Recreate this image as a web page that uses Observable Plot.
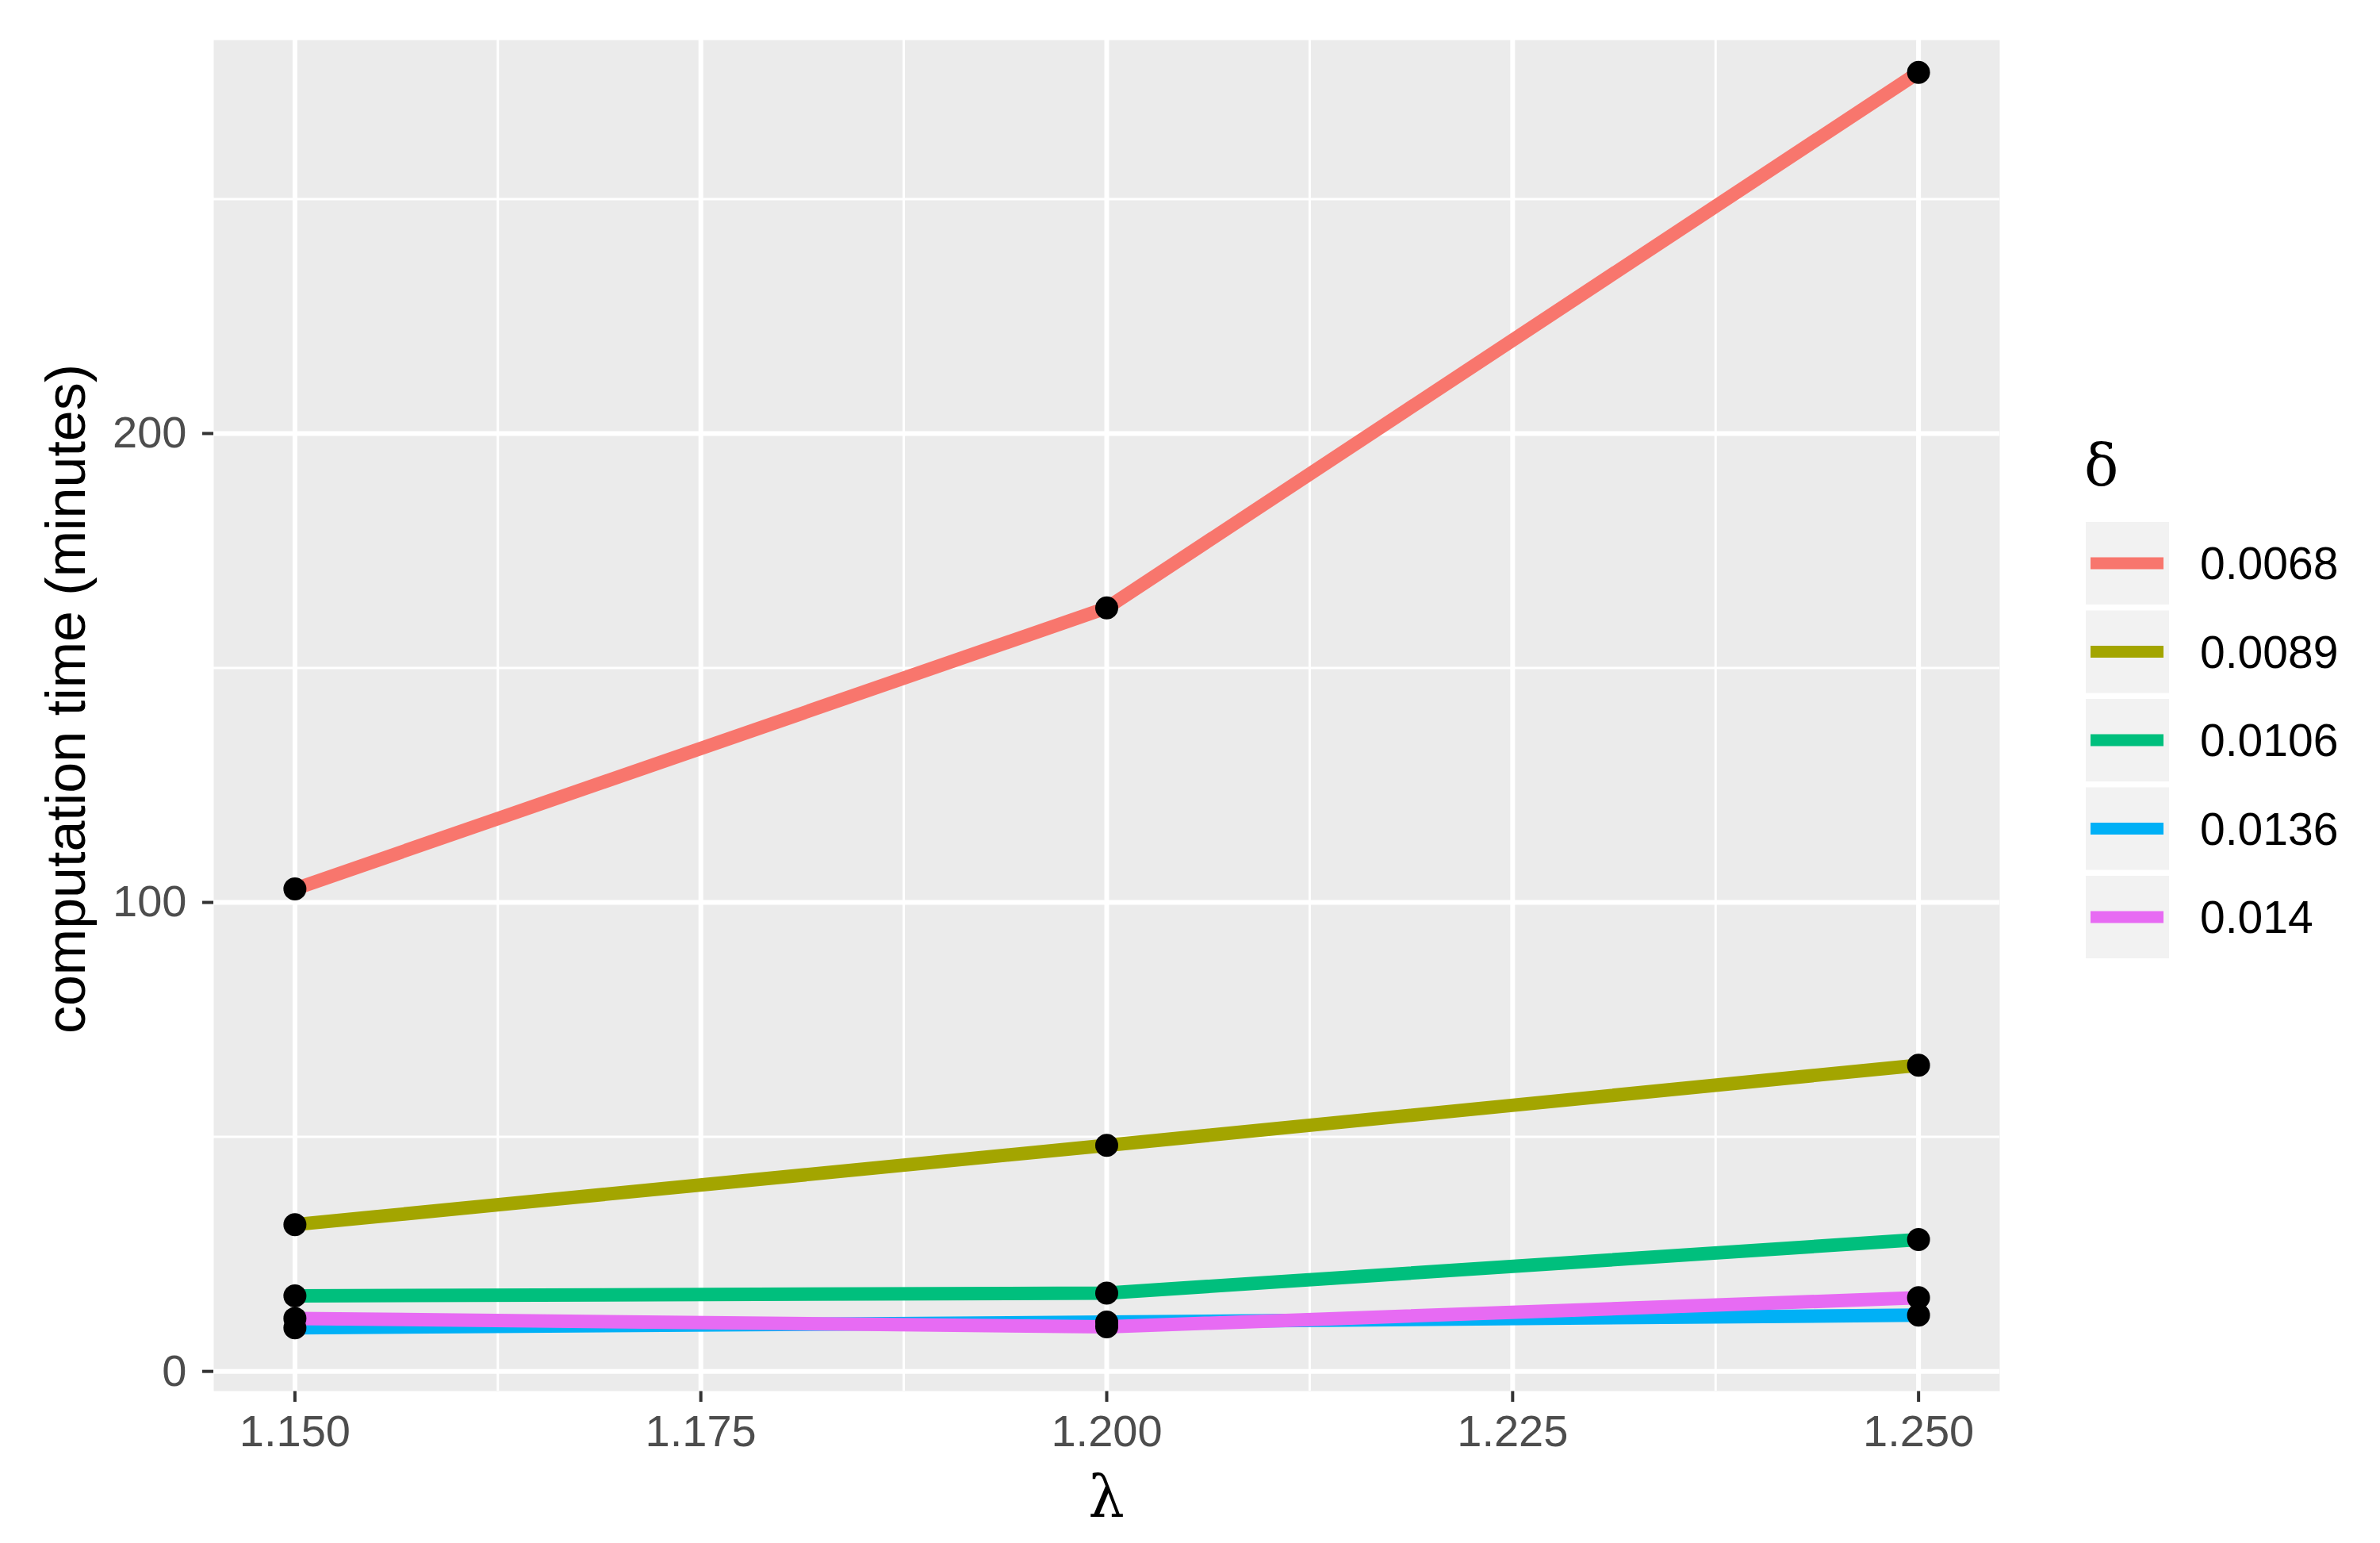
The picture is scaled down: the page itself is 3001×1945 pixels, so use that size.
<!DOCTYPE html>
<html>
<head>
<meta charset="utf-8">
<script src="https://cdn.jsdelivr.net/npm/d3@7"></script>
<script src="https://cdn.jsdelivr.net/npm/@observablehq/plot@0.6"></script>
<style>
  body { margin: 0; background: #fff; }
  #chart { position: relative; width: 3001px; height: 1945px; }
  g[aria-label="x-axis tick"], g[aria-label="y-axis tick"] { stroke-width: 4px; stroke: #333333; }
  g[aria-label="x-axis tick label"], g[aria-label="y-axis tick label"] { fill: #4d4d4d; }
  [aria-label="x-axis"] .tick line, [aria-label="y-axis"] .tick line { stroke-width: 4px; stroke: #333333; }
  [aria-label="x-axis"] .tick text, [aria-label="y-axis"] .tick text { fill: #4d4d4d; }
</style>
</head>
<body>
<div id="chart"></div>
<script>
// ---- data ----
const lambda = [1.15, 1.2, 1.25];
const deltas = ["0.0068", "0.0089", "0.0106", "0.0136", "0.014"];
const time0068 = [102.9, 162.8, 277.0];
const time0089 = [31.3, 48.2, 65.3];
const time0106 = [16.1, 16.7, 28.1];
const time0136 = [9.3, 10.5, 12.0];
const time014  = [11.3, 9.5, 15.7];
const colors = ["#F8766D", "#A3A500", "#00BF7D", "#00B0F6", "#E76BF3"];
const xTicks = [1.15, 1.175, 1.2, 1.225, 1.25];
const xMinor = [1.1625, 1.1875, 1.2125, 1.2375];
const yTicks = [0, 100, 200];
const yMinor = [50, 150, 250];

const series = [time0068, time0089, time0106, time0136, time014];
const data = [];
deltas.forEach((d, i) => lambda.forEach((l, j) => data.push({delta: d, lambda: l, time: series[i][j]})));

const W = 3001, H = 1945;
const mL = 269, mR = 480, mT = 50, mB = 192;

const svg = Plot.plot({
  width: W,
  height: H,
  marginLeft: mL,
  marginRight: mR,
  marginTop: mT,
  marginBottom: mB,
  style: {fontFamily: "'Liberation Sans', Arial, sans-serif", fontSize: "56px", color: "#333333", background: "#ffffff", overflow: "visible"},
  x: {domain: [1.145, 1.255], ticks: xTicks, tickFormat: d3.format(".3f"), tickSize: 14, tickPadding: 16, label: null},
  y: {domain: [-4.2, 283.9], ticks: yTicks, tickFormat: d3.format("d"), tickSize: 14, tickPadding: 20, label: null},
  color: {domain: deltas, range: colors},
  marks: [
    Plot.frame({fill: "#EBEBEB", stroke: null}),
    Plot.ruleY(yMinor, {stroke: "#ffffff", strokeWidth: 3}),
    Plot.ruleX(xMinor, {stroke: "#ffffff", strokeWidth: 3}),
    Plot.ruleY(yTicks, {stroke: "#ffffff", strokeWidth: 6}),
    Plot.ruleX(xTicks, {stroke: "#ffffff", strokeWidth: 6}),
    Plot.line(data, {x: "lambda", y: "time", z: "delta", stroke: "delta", strokeWidth: 17, strokeLinecap: "butt", strokeLinejoin: "round"}),
    Plot.dot(data, {x: "lambda", y: "time", r: 14.5, fill: "#000000", stroke: null})
  ]
});

const s = d3.select(svg);
// axis titles
s.append("text")
  .attr("transform", "translate(107,881) rotate(-90)")
  .attr("text-anchor", "middle")
  .attr("font-family", "'Liberation Sans', Arial, sans-serif")
  .attr("font-size", 70)
  .attr("fill", "#000000")
  .text("computation time (minutes)");
s.append("text")
  .attr("x", (mL + (W - mR)) / 2)
  .attr("y", 1912)
  .attr("text-anchor", "middle")
  .attr("font-family", "'DejaVu Serif', 'Liberation Serif', serif")
  .attr("font-size", 72)
  .attr("fill", "#000000")
  .text("λ");

// legend
const lg = s.append("g").attr("text-anchor", "start");
lg.append("text")
  .attr("x", 2628)
  .attr("y", 612)
  .attr("text-anchor", "start")
  .attr("font-family", "'DejaVu Serif', 'Liberation Serif', serif")
  .attr("font-size", 72)
  .attr("fill", "#000000")
  .text("δ");
deltas.forEach((d, i) => {
  const cy = 710 + i * 111.5;
  lg.append("rect").attr("x", 2630).attr("y", cy - 52).attr("width", 105).attr("height", 104).attr("fill", "#F2F2F2");
  lg.append("line").attr("x1", 2636).attr("x2", 2728).attr("y1", cy).attr("y2", cy)
    .attr("stroke", colors[i]).attr("stroke-width", 15);
  lg.append("text").attr("x", 2774).attr("y", cy + 20)
    .attr("text-anchor", "start")
    .attr("font-family", "'Liberation Sans', Arial, sans-serif")
    .attr("font-size", 57).attr("fill", "#000000").text(d);
});

document.getElementById("chart").appendChild(svg);
</script>
</body>
</html>
